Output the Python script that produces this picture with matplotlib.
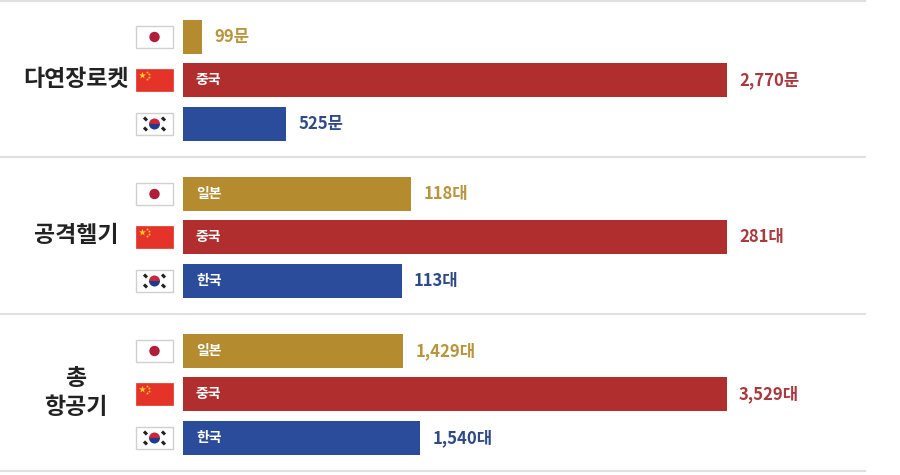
import matplotlib.pyplot as plt
from matplotlib.patches import Rectangle, Circle, Wedge

plt.rcParams['font.family'] = ['Noto Sans CJK KR', 'DejaVu Sans']

groups = ['다연장로켓', '공격헬기', '총\n항공기']
countries = ['일본', '중국', '한국']
units = ['문', '대', '대']
japan = [99, 118, 1429]
china = [2770, 281, 3529]
korea = [525, 113, 1540]
# which inner country labels are shown in the source (group 1 hides Japan and Korea)
show_inner = [[False, True, False], [True, True, True], [True, True, True]]

bar_colors = ['#B58B2F', '#B02E2E', '#2B4C9B']
text_colors = ['#B8953C', '#A83A3E', '#2F4A86']

fig = plt.figure(figsize=(9, 4.75), dpi=100)
ax = fig.add_axes([0, 0, 1, 1])
ax.set_xlim(0, 900)
ax.set_ylim(475, 0)
ax.axis('off')

bar_left = 183
bar_full = 544
group_top = [0, 157, 314]
row_offsets = [37, 80, 124]
bar_h = 34


def draw_flag(kind, yc):
    x0, w, h = 136, 37, 22
    y0 = yc - h / 2
    if kind == 0:
        ax.add_patch(Rectangle((x0, y0), w, h, fc='white', ec='#D0D0D0', lw=1))
        ax.add_patch(Circle((x0 + w / 2, yc), 5.2, fc='#B01E3A', ec='none'))
    elif kind == 1:
        ax.add_patch(Rectangle((x0, y0), w, h, fc='#E5332A', ec='#E5332A', lw=0.5))
        ax.scatter([x0 + 6], [y0 + 6], marker='*', s=28, c='#F5D020', zorder=5, linewidths=0)
        ax.scatter([x0 + 11, x0 + 13, x0 + 13, x0 + 11], [y0 + 3, y0 + 5, y0 + 8, y0 + 10],
                   marker='*', s=5, c='#F5D020', zorder=5, linewidths=0)
    else:
        ax.add_patch(Rectangle((x0, y0), w, h, fc='white', ec='#D0D0D0', lw=1))
        cx = x0 + w / 2
        ax.add_patch(Wedge((cx, yc), 5.5, 180, 360, fc='#C8263A', ec='none'))
        ax.add_patch(Wedge((cx, yc), 5.5, 0, 180, fc='#1F3C8C', ec='none'))
        for dx, dy in [(-9, -5), (9, -5), (-9, 5), (9, 5)]:
            ax.plot([cx + dx - 1.5, cx + dx + 1.5], [yc + dy - 1.5, yc + dy + 1.5],
                    color='#222222', lw=2.2, solid_capstyle='butt')


for g in range(3):
    vals = [japan[g], china[g], korea[g]]
    vmax = max(vals)
    top = group_top[g]
    for i in range(3):
        yc = top + row_offsets[i]
        width = vals[i] / vmax * bar_full
        ax.barh(yc, width, left=bar_left, height=bar_h, color=bar_colors[i])
        draw_flag(i, yc)
        if show_inner[g][i]:
            ax.text(bar_left + 13, yc, countries[i], color='white', fontsize=10,
                    fontweight='bold', va='center', ha='left')
        ax.text(bar_left + width + 12, yc, f'{vals[i]:,}{units[g]}', color=text_colors[i],
                fontsize=12, fontweight='bold', va='center', ha='left')
    ax.text(76, top + 79, groups[g], fontsize=16.5, fontweight='bold', color='#222222',
            ha='center', va='center', linespacing=1.3)

for y in [1, 157, 314, 471]:
    ax.plot([0, 865], [y, y], color='#E0E0E0', lw=1.5)

fig.savefig('out.png', dpi=100)
